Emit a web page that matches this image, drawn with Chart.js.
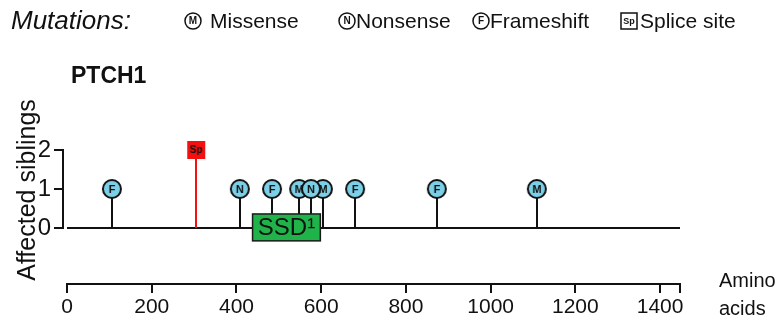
<!DOCTYPE html>
<html>
<head>
<meta charset="utf-8">
<script src="https://cdn.jsdelivr.net/npm/chart.js@4.4.0/dist/chart.umd.min.js"></script>
<style>
    html, body { margin: 0; padding: 0; background: #fff; }
    #wrap { position: relative; width: 783px; height: 320px; }
</style>
</head>
<body>
<div id="wrap"><canvas id="chart"></canvas></div>
<script>
// PTCH1 lollipop plot - mutations found in affected siblings

const geneName = 'PTCH1';
const proteinLength = 1447;

// mutations: residue position, type code, number of affected siblings
const mutationPos = [106, 305, 408, 484, 548, 576, 604, 680, 873, 1109];
const mutationType = ['F', 'Sp', 'N', 'F', 'M', 'N', 'M', 'F', 'F', 'M'];
const affectedSiblings = [1, 2, 1, 1, 1, 1, 1, 1, 1, 1];

// protein domains
const domainNames = ['SSD¹'];
const domainStart = [438];
const domainEnd = [598];

// axis ticks
const xTicks = [0, 200, 400, 600, 800, 1000, 1200, 1400];
const yTicks = [0, 1, 2];

// legend
const typeCodes = ['M', 'N', 'F', 'Sp'];
const typeLabels = ['Missense', 'Nonsense', 'Frameshift', 'Splice site'];

const FONT = '"Liberation Sans", Arial, Helvetica, sans-serif';
const INK = '#111';
const MARKER_BLUE = '#7bd0e8';
const SPLICE_RED = '#f50f0f';
const DOMAIN_GREEN = '#1fb34a';

// Round marker with a letter in it
function circleMarker(letter, fill, r, lw, fontPx) {
    const c = document.createElement('canvas');
    const size = Math.ceil(r * 2 + lw + 2);
    c.width = size;
    c.height = size;
    const g = c.getContext('2d');
    g.beginPath();
    g.arc(size / 2, size / 2, r, 0, Math.PI * 2);
    g.fillStyle = fill;
    g.fill();
    g.lineWidth = lw;
    g.strokeStyle = INK;
    g.stroke();
    g.fillStyle = INK;
    g.font = `bold ${fontPx}px ${FONT}`;
    g.textAlign = 'center';
    g.textBaseline = 'middle';
    g.fillText(letter, size / 2, size / 2 + 0.5);
    return c;
}

// Square marker (splice site)
function squareMarker(text, fill, side, lw, fontPx) {
    const c = document.createElement('canvas');
    const size = Math.ceil(side + lw + 2);
    c.width = size;
    c.height = size;
    const g = c.getContext('2d');
    const o = (size - side) / 2;
    g.fillStyle = fill;
    g.fillRect(o, o, side, side);
    if (lw > 0) {
        g.lineWidth = lw;
        g.strokeStyle = INK;
        g.strokeRect(o, o, side, side);
    }
    g.fillStyle = INK;
    g.font = `bold ${fontPx}px ${FONT}`;
    g.textAlign = 'center';
    g.textBaseline = 'middle';
    g.fillText(text, size / 2, size / 2 + 0.5);
    return c;
}

const plotMarkers = {
    M: circleMarker('M', MARKER_BLUE, 9, 2, 11),
    N: circleMarker('N', MARKER_BLUE, 9, 2, 11),
    F: circleMarker('F', MARKER_BLUE, 9, 2, 11),
    Sp: squareMarker('Sp', SPLICE_RED, 18, 0, 10)
};

const legendMarkers = {
    M: circleMarker('M', '#fff', 8, 1.5, 10),
    N: circleMarker('N', '#fff', 8, 1.5, 10),
    F: circleMarker('F', '#fff', 8, 1.5, 10),
    Sp: squareMarker('Sp', '#fff', 16, 1.5, 9)
};

// Nonsense on top of Missense where they overlap
const drawOrder = { N: 0, M: 1, F: 2, Sp: 3 };

const datasets = typeCodes.map((code, k) => ({
    label: typeLabels[k],
    data: mutationPos
        .map((pos, i) => ({ x: pos, y: affectedSiblings[i], t: mutationType[i] }))
        .filter(d => d.t === code),
    pointStyle: plotMarkers[code],
    pointRadius: 10,
    showLine: false,
    clip: false,
    order: drawOrder[code]
}));

// Backbone, stems, domains, axis lines and free text
const proteinPlot = {
    id: 'proteinPlot',
    beforeDatasetsDraw(chart) {
        const { ctx, chartArea, scales: { x, y } } = chart;
        const y0 = y.getPixelForValue(0);
        ctx.save();
        ctx.lineCap = 'butt';

        // y axis only spans 0..2
        ctx.strokeStyle = INK;
        ctx.lineWidth = 2;
        ctx.beginPath();
        ctx.moveTo(chartArea.left, y.getPixelForValue(yTicks[0]) + 1);
        ctx.lineTo(chartArea.left, y.getPixelForValue(yTicks[yTicks.length - 1]) - 1);
        ctx.stroke();

        // x axis spans the protein
        ctx.beginPath();
        ctx.moveTo(x.getPixelForValue(0) - 1, chartArea.bottom);
        ctx.lineTo(x.getPixelForValue(proteinLength) + 1, chartArea.bottom);
        ctx.stroke();

        // protein backbone
        ctx.beginPath();
        ctx.moveTo(x.getPixelForValue(0), y0);
        ctx.lineTo(x.getPixelForValue(proteinLength), y0);
        ctx.stroke();

        // stems
        mutationPos.forEach((pos, i) => {
            const px = Math.round(x.getPixelForValue(pos));
            ctx.strokeStyle = mutationType[i] === 'Sp' ? SPLICE_RED : INK;
            ctx.lineWidth = 2;
            ctx.beginPath();
            ctx.moveTo(px, y0);
            ctx.lineTo(px, y.getPixelForValue(affectedSiblings[i]));
            ctx.stroke();
        });

        // domains
        domainNames.forEach((name, i) => {
            const x1 = x.getPixelForValue(domainStart[i]);
            const x2 = x.getPixelForValue(domainEnd[i]);
            const top = y.getPixelForValue(0.36);
            const bottom = y.getPixelForValue(-0.33);
            ctx.fillStyle = DOMAIN_GREEN;
            ctx.fillRect(x1, top, x2 - x1, bottom - top);
            ctx.strokeStyle = '#1a1a1a';
            ctx.lineWidth = 1.5;
            ctx.strokeRect(x1, top, x2 - x1, bottom - top);
            ctx.fillStyle = INK;
            ctx.font = `24px ${FONT}`;
            ctx.textAlign = 'center';
            ctx.textBaseline = 'middle';
            ctx.fillText(name, (x1 + x2) / 2, (top + bottom) / 2 + 1);
        });
        ctx.restore();
    },
    afterDraw(chart) {
        const { ctx } = chart;
        ctx.save();
        ctx.fillStyle = INK;
        ctx.textBaseline = 'alphabetic';
        ctx.textAlign = 'left';

        // legend row
        ctx.font = `italic 26px ${FONT}`;
        ctx.fillText('Mutations:', 11, 29);
        const iconX = [193, 347, 481, 629];
        const textX = [210, 356, 490, 640];
        ctx.font = `21px ${FONT}`;
        typeCodes.forEach((code, k) => {
            const img = legendMarkers[code];
            ctx.drawImage(img, Math.round(iconX[k] - img.width / 2), Math.round(21 - img.height / 2));
            ctx.fillText(typeLabels[k], textX[k], 28);
        });

        // gene name
        ctx.font = `bold 23px ${FONT}`;
        ctx.fillText(geneName, 71, 83);

        // y axis title
        ctx.save();
        ctx.translate(35, 190);
        ctx.rotate(-Math.PI / 2);
        ctx.textAlign = 'center';
        ctx.font = `25px ${FONT}`;
        ctx.fillText('Affected siblings', 0, 0);
        ctx.restore();

        // x axis title
        ctx.font = `20px ${FONT}`;
        ctx.fillText('Amino', 719, 287);
        ctx.fillText('acids', 719, 315);
        ctx.restore();
    }
};

const ctx = document.getElementById('chart').getContext('2d');

new Chart(ctx, {
    type: 'scatter',
    data: { datasets: datasets },
    options: {
        responsive: true,
        maintainAspectRatio: false,
        animation: false,
        layout: {
            padding: { left: 0, top: 150, right: 103, bottom: 0 }
        },
        plugins: {
            legend: { display: false },
            tooltip: { enabled: false },
            title: { display: false }
        },
        scales: {
            x: {
                type: 'linear',
                min: -9.5,
                max: proteinLength,
                afterFit: (scale) => { scale.height = 36; },
                afterBuildTicks: (scale) => {
                    scale.ticks = xTicks.concat([proteinLength]).map(v => ({ value: v }));
                },
                border: { display: false },
                grid: {
                    drawOnChartArea: false,
                    drawTicks: true,
                    tickLength: 9,
                    color: INK,
                    lineWidth: 2
                },
                ticks: {
                    autoSkip: false,
                    maxRotation: 0,
                    padding: 2,
                    color: INK,
                    font: { size: 21, family: FONT },
                    callback: (value) => value === proteinLength ? '' : String(value)
                }
            },
            y: {
                min: -1.436,
                max: 2,
                afterFit: (scale) => { scale.width = 63; },
                afterBuildTicks: (scale) => {
                    scale.ticks = yTicks.map(v => ({ value: v }));
                },
                border: { display: false },
                grid: {
                    drawOnChartArea: false,
                    drawTicks: true,
                    tickLength: 9,
                    color: INK,
                    lineWidth: 2
                },
                ticks: {
                    padding: 3,
                    color: INK,
                    font: { size: 24, family: FONT },
                    callback: (value) => String(value)
                }
            }
        }
    },
    plugins: [proteinPlot]
});
</script>
</body>
</html>
